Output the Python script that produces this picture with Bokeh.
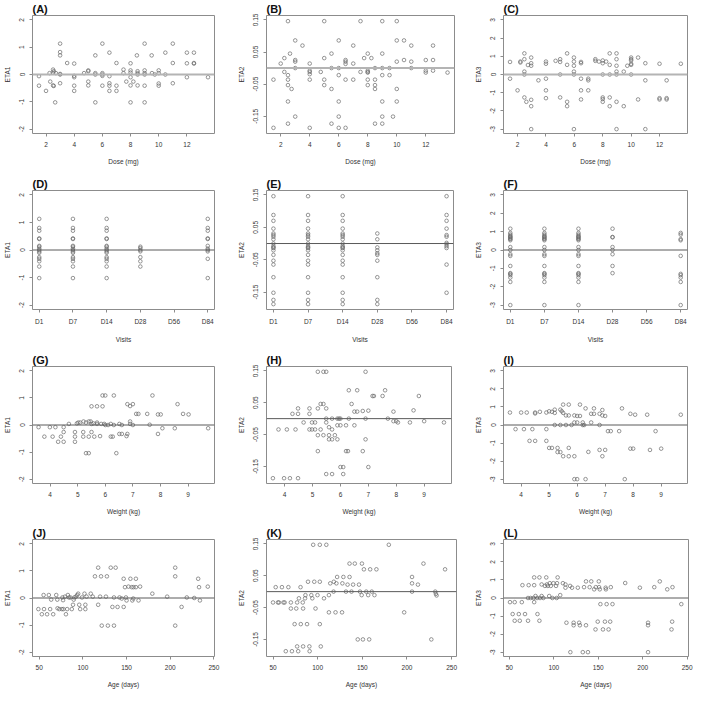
from bokeh.plotting import figure
from bokeh.layouts import column, row
from bokeh.models import FixedTicker, Span, Range1d
from bokeh.embed import file_html
from bokeh.resources import INLINE

# ---------------- data ----------------
dose_a = [1.5, 1.5, 2.0, 2.25, 2.3, 2.5, 2.5, 2.5, 2.55, 2.55, 2.65, 2.7, 3, 3, 3, 3, 3, 3, 3.5,
          4, 4, 4, 4, 4, 4.7, 5, 5, 5, 5, 5.5, 5.5, 5.5, 5.5, 6, 6, 6, 6, 6, 6.5, 6.5, 6.5, 6.5, 6.5,
          7, 7, 7, 7.5, 7.5, 7.7, 8, 8, 8, 8, 8, 8, 8.2, 8.45, 8.5, 8.5, 8.5, 8.5, 9, 9, 9, 9, 9, 9,
          9.5, 9.52, 9.72, 10, 10, 10, 10, 10.47, 10.47, 11, 11, 11, 12, 12, 12, 12.5, 12.5, 12.5, 13.5]
eta1_a = [-0.06, -0.41, -0.6, 0.05, -0.26, 0.18, 0.06, -0.4, 0.12, -0.42, -1.02, 0.05, 1.13, 0.82, 0.7, 0.0, 0.02, -0.32, 0.42,
          0.4, -0.05, -0.1, -0.41, -0.6, 0.05, 0.15, 0.12, -0.26, -0.4, 0.7, 0.05, 0.0, -1.02, 1.13, 0.05, 0.0, -0.05, -0.41, 0.8, -0.06, -0.32, -0.41, -0.6,
          0.42, -0.41, -0.6, 0.18, 0.05, -0.26, 0.41, 0.15, 0.07, -0.1, -0.4, -1.02, -0.26, 0.7, 0.12, 0.05, 0.0, -0.4, 1.13, 0.15, 0.05, 0.0, -0.41, -1.02,
          0.7, 0.05, 0.0, 0.15, 0.05, -0.33, -0.41, 0.8, 0.0, 1.13, 0.42, -0.32, 0.8, 0.41, -0.1, 0.8, 0.42, 0.4, -0.1]

dose_b = [1.5, 1.5, 2, 2.25, 2.25, 2.5, 2.5, 2.5, 2.5, 2.5, 2.5, 2.64, 2.75, 3, 3, 3, 3, 3, 3.5,
          4, 4, 4, 4, 4, 4, 4.76, 5, 5, 5, 5, 5.5, 5.5, 5.5, 5.5, 6, 6, 6, 6, 6, 6,
          6.47, 6.47, 6.47, 6.47, 6.47, 7, 7, 7, 7.5, 7.5, 7.75, 8, 8, 8, 8, 8, 8, 8.25,
          8.5, 8.5, 8.5, 8.5, 8.5, 9, 9, 9, 9, 9, 9, 9, 9.5, 9.5, 9.74,
          10, 10, 10, 10, 10, 10.5, 10.5, 11, 11, 11, 12, 12, 12, 12.5, 12.5, 12.5, 13.5]
eta2_b = [-0.036, -0.186, 0.014, 0.031, -0.012, 0.146, -0.022, -0.036, -0.053, -0.104, -0.173, 0.045, -0.065, 0.086, 0.025, 0.02, 0.0, -0.151, 0.07,
          0.014, -0.008, -0.012, -0.019, -0.036, -0.186, -0.012, 0.146, 0.031, -0.036, -0.053, 0.045, 0.0, -0.065, -0.173, 0.086, 0.0, -0.022, -0.104, -0.151, -0.186,
          0.025, 0.02, 0.013, -0.036, -0.186, 0.07, 0.014, -0.036, 0.146, -0.012, 0.031, 0.045, -0.008, -0.012, -0.014, -0.036, -0.053, 0.031,
          0.0, -0.036, -0.053, -0.065, -0.173, 0.146, 0.045, 0.0, -0.022, -0.104, -0.151, -0.173, 0.0, -0.022, -0.151,
          0.146, 0.086, 0.02, -0.065, -0.104, 0.086, 0.025, 0.07, 0.02, 0.0, 0.025, -0.008, -0.014, 0.07, 0.025, -0.008, -0.014]

dose_c = [1.47, 1.47, 2, 2.2, 2.2, 2.48, 2.48, 2.48, 2.48, 2.48, 2.62, 2.73, 2.96, 2.96, 2.96, 2.96, 2.96, 2.96, 3.47,
          4, 4, 4, 4, 4, 4.68, 5, 5, 5, 5, 5.49, 5.49, 5.49, 5.49, 5.97, 5.97, 5.97, 5.97, 5.97, 5.97,
          6.47, 6.47, 6.47, 6.47, 6.47, 6.98, 6.98, 6.98, 7.48, 7.48, 7.73, 8, 8, 8, 8, 8, 8, 8.24,
          8.49, 8.49, 8.49, 8.49, 8.49, 8.97, 8.97, 8.97, 8.97, 8.97, 8.97, 8.97, 9.48, 9.48, 9.73,
          10, 10, 10, 10, 10, 10, 10.49, 10.49, 11, 11, 11, 12, 12, 12, 12.5, 12.5, 12.5, 13.5]
eta3_c = [0.69, -0.23, -0.87, 0.71, 0.66, 1.16, 0.84, 0.16, 0.0, -1.26, -1.5, 0.52, 0.93, 0.62, 0.48, -1.39, -1.74, -3.0, -0.32,
          0.71, 0.59, -0.23, -0.87, -1.3, 0.75, 0.84, 0.69, 0.0, -1.26, 1.16, 0.53, -1.5, -1.74, 0.93, 0.71, 0.48, 0.16, 0.0, -3.0,
          0.69, 0.62, -0.23, -0.87, -1.37, -0.23, -0.32, -0.87, 0.84, 0.75, 0.71, 0.77, 0.62, 0.0, -1.26, -1.35, -1.5, 0.71,
          1.16, 0.53, 0.0, -1.26, -1.74, 1.16, 0.84, 0.48, 0.16, 0.0, -1.5, -3.0, 0.16, -1.74, 0.48,
          0.93, 0.84, 0.77, 0.59, 0.53, 0.0, 0.93, -1.37, 0.62, -0.32, -3.0, 0.59, -1.3, -1.37, -0.32, -1.3, -1.37, 0.59]

visits = ["D1", "D7", "D14", "D28", "D56", "D84"]
eta1_full = [1.13, 0.8, 0.7, 0.42, 0.4, 0.15, 0.12, 0.05, 0.0, -0.05, -0.1, -0.26, -0.32, -0.41, -0.6, -1.02]
eta1_by_visit = {"D1": eta1_full, "D7": eta1_full, "D14": eta1_full,
                 "D28": [0.12, 0.07, 0.0, -0.05, -0.26, -0.41, -0.6], "D56": [],
                 "D84": [1.13, 0.8, 0.7, 0.42, 0.4, 0.15, 0.05, 0.0, -0.05, -0.32, -1.02]}
eta2_full = [0.146, 0.088, 0.07, 0.046, 0.031, 0.026, 0.021, 0.013, 0.0, -0.008, -0.012, -0.014, -0.021,
             -0.035, -0.053, -0.065, -0.104, -0.152, -0.174, -0.187]
eta2_by_visit = {"D1": eta2_full, "D7": eta2_full, "D14": eta2_full,
                 "D28": [0.031, 0.013, -0.012, -0.021, -0.03, -0.035, -0.053, -0.104, -0.174, -0.187], "D56": [],
                 "D84": [0.146, 0.088, 0.07, 0.046, 0.026, 0.021, 0.002, -0.002, -0.008, -0.014, -0.065, -0.152]}
eta3_full = [1.16, 0.93, 0.84, 0.77, 0.71, 0.69, 0.62, 0.59, 0.53, 0.16, 0.0, -0.23, -0.32, -0.87, -1.26, -1.3,
             -1.37, -1.5, -1.74, -3.0]
eta3_by_visit = {"D1": eta3_full, "D7": eta3_full, "D14": eta3_full,
                 "D28": [1.16, 0.71, 0.69, 0.16, 0.0, -0.23, -0.87, -1.26], "D56": [],
                 "D84": [0.93, 0.84, 0.59, 0.53, -0.32, -1.3, -1.37, -1.5, -1.74, -3.0]}

wt_g = [3.58, 3.79, 3.99, 4.09, 4.19, 4.29, 4.39, 4.49, 4.49, 4.49, 4.68, 4.9, 4.9, 4.9, 4.97, 5.02, 5.09, 5.2, 5.2, 5.21,
        5.3, 5.3, 5.4, 5.4, 5.4, 5.47, 5.5, 5.5, 5.5, 5.57, 5.6, 5.7, 5.7, 5.7, 5.81, 5.85, 5.9, 5.9, 5.96, 6.0,
        6.0, 6.1, 6.2, 6.2, 6.27, 6.31, 6.31, 6.4, 6.51, 6.51, 6.6, 6.6, 6.77, 6.8, 6.8, 6.9, 6.9, 6.9, 7.0, 7.0,
        7.12, 7.2, 7.52, 7.61, 7.71, 7.91, 7.91, 8.01, 8.07, 8.52, 8.62, 8.82, 9.02, 9.73]
eta1_g = [-0.08, -0.43, -0.08, -0.43, -0.08, -0.62, -0.43, -0.08, -0.26, -0.62, 0.04, -0.26, -0.43, -0.62, 0.06, 0.09, 0.09, -0.43, -0.26, 0.13,
          0.09, -1.04, 0.13, -1.04, -0.43, 0.13, 0.69, 0.04, -0.26, 0.06, -0.43, 0.69, 0.09, 0.04, -0.41, 0.04, 1.09, 0.69, 0.04, 1.09,
          0.0, 0.0, 0.04, -0.43, -0.43, 1.09, 0.0, -1.04, 0.04, -0.33, -0.33, 0.0, -0.41, -0.33, 0.77, 0.7, 0.13, 0.04, 0.77, 0.0,
          0.41, 0.41, 0.41, 0.01, 1.09, -0.33, 0.39, 0.39, -0.12, -0.12, 0.77, 0.41, 0.39, -0.12]

wt_h = [3.58, 3.78, 3.98, 4.08, 4.19, 4.28, 4.39, 4.48, 4.48, 4.48, 4.68, 4.89, 4.89, 4.89, 4.98, 4.98, 5.09, 5.09,
        5.19, 5.19, 5.19, 5.19, 5.29, 5.29, 5.39, 5.39, 5.39, 5.49, 5.49, 5.49, 5.49, 5.49, 5.59, 5.59, 5.59,
        5.7, 5.7, 5.7, 5.7, 5.8, 5.89, 5.89, 5.89, 5.95, 6.0, 6.0, 6.0, 6.1, 6.1, 6.2, 6.2, 6.27, 6.3, 6.3, 6.4,
        6.5, 6.5, 6.6, 6.6, 6.8, 6.8, 6.9, 6.9, 6.9, 7.0, 7.0, 7.15, 7.2, 7.51, 7.6, 7.7, 7.9, 7.9, 8.0, 8.06,
        8.49, 8.62, 8.81, 9.0, 9.71]
eta2_h = [-0.187, -0.034, -0.187, -0.034, -0.187, 0.015, -0.034, 0.032, 0.015, -0.187, -0.012, 0.032, 0.015, -0.034, -0.012, -0.034, -0.012, -0.034,
          0.147, 0.032, -0.052, -0.102, 0.046, -0.034, 0.147, 0.046, -0.052, 0.147, 0.032, 0.0, -0.012, -0.174, -0.027, -0.052, -0.065,
          0.0, -0.034, -0.065, -0.174, -0.052, 0.0, -0.021, -0.065, 0.0, -0.021, -0.152, 0.0, -0.152, -0.174, -0.021, -0.102, -0.102, 0.089, 0.0, 0.046,
          0.022, -0.021, 0.089, 0.022, 0.024, -0.102, 0.147, 0.0, -0.065, 0.025, -0.152, 0.071, 0.071, 0.071, 0.089, 0.0, 0.022, -0.008, -0.008, -0.012,
          -0.012, 0.026, 0.071, -0.008, -0.012]

wt_i = [3.6, 3.8, 4.0, 4.1, 4.2, 4.3, 4.4, 4.5, 4.5, 4.5, 4.67, 4.9, 4.9, 4.9, 5.0, 5.0, 5.1, 5.1, 5.2, 5.2, 5.2,
        5.3, 5.3, 5.4, 5.4, 5.4, 5.45, 5.5, 5.5, 5.5, 5.6, 5.6, 5.7, 5.7, 5.7, 5.7, 5.8, 5.9, 5.9, 5.9, 5.9,
        6.0, 6.0, 6.0, 6.1, 6.1, 6.2, 6.2, 6.25, 6.3, 6.3, 6.4, 6.5, 6.5, 6.6, 6.6, 6.8, 6.8, 6.8, 6.9, 6.9, 6.9,
        7.0, 7.0, 7.1, 7.2, 7.5, 7.6, 7.7, 7.9, 7.9, 8.0, 8.07, 8.5, 8.6, 8.8, 9.0, 9.7]
eta3_i = [0.69, -0.23, 0.69, -0.23, 0.69, -0.88, -0.23, 0.69, 0.64, -0.88, 0.73, 0.69, -0.23, -0.88, 0.76, -1.27, 0.73, -1.27, 0.85, 0.67, 0.0,
          -1.27, -1.5, 0.85, 0.0, -1.5, 0.76, 1.13, 0.67, -1.73, 0.53, 0.0, 1.13, 0.53, -1.27, -1.73, 0.0, 0.53, 0.14, -1.73, -3.0,
          0.5, 0.14, -3.0, 1.13, 0.5, 0.14, 0.0, 0.0, 0.92, -3.0, -1.49, 0.14, 0.62, 0.62, 0.92, 0.62, 0.0, -1.38, 0.83, 0.53, -1.73,
          0.5, -1.38, -0.34, -0.34, -0.34, 0.92, -3.0, 0.62, -1.31, -1.31, 0.57, 0.57, -1.38, -0.34, -1.31, 0.57]

age_j = [49, 53, 55, 55.5, 59, 61, 62.5, 63.7, 66, 69.5, 70.7, 71, 73, 76, 76.6, 77.3, 77.7, 79.5, 80.6, 82, 82.8, 84, 85.8,
         87.3, 88.7, 89.5, 90.2, 92, 93.5, 94.6, 95.8, 96.9, 99, 101.8, 102.8, 102.8, 104.2, 109, 111.3, 113.8, 117.5, 117.5,
         119.7, 120.8, 121.6, 126.4, 127.5, 128.6, 131.9, 133.8, 135.6, 135.6, 137.5, 139.7, 141.9, 144.5, 146.7, 146.7, 148.2,
         149.3, 150, 152.2, 154.4, 155.9, 156.6, 157.7, 158, 160.7, 160.7, 163.7, 165.5, 179.5, 196.5, 205.7, 205.7, 205.7,
         213, 219, 227.5, 232, 233, 234, 243]
eta1_j = [-0.41, -0.6, 0.11, -0.41, -0.6, 0.11, -0.41, -0.06, -0.6, 0.11, -0.06, -0.38, -0.41, -0.41, 0.02, -0.08, -0.41, 0.05, -0.6, -0.41, 0.11, 0.02, 0.02,
          -0.41, -0.25, -0.06, 0.02, 0.05, 0.11, 0.16, -0.25, -0.41, 0.02, 0.16, -0.25, -0.41, 0.05, 0.16, 0.05, 0.8, 1.12, -0.25,
          0.05, 0.8, -1.02, 0.05, 0.8, -1.02, 1.12, -0.33, -1.02, 0.02, 1.12, -0.33, 0.02, -0.02, -0.33, 0.71, 0.4,
          0.02, -0.09, 0.42, 0.71, 0.4, -0.09, -0.02, 0.4, 0.71, 0.4, -0.09, 0.42, 0.16, 0.05, 1.12, 0.8, -1.02,
          -0.33, 0.02, 0.0, 0.71, 0.4, -0.09, 0.42]

age_k = [50, 53, 55.5, 56.6, 60, 61.7, 63, 64.3, 67.2, 70, 70, 71.2, 74.2, 76, 77, 77, 78.2, 79, 80.8, 81.1, 83.3, 83.7, 83.7,
         85.9, 86.3, 88.1, 89.2, 90.7, 91, 92.9, 94, 95, 96.2, 97.6, 99.8, 102.4, 102.4, 102.4, 103.5, 107.1, 109.7, 112.6,
         112.6, 114.1, 118.1, 117.8, 120, 121, 121.8, 127.3, 127.7, 128.8, 131.7, 133.5, 135.7, 135.7, 137.9, 139.7, 141.6,
         144.9, 146.3, 147.4, 149.3, 149.6, 150.7, 151.8, 154.4, 156.6, 157.7, 158.8, 160.6, 163.6, 165.8, 179.7, 196.9,
         205.7, 205.7, 205.7, 212.3, 218.5, 227.3, 231.7, 232.4, 233.2, 242.7]
eta2_k = [-0.034, 0.014, -0.034, -0.034, 0.014, -0.034, -0.034, -0.187, 0.014, -0.034, -0.053, -0.187, -0.102, -0.053, -0.034, -0.172, -0.187, -0.021, 0.014, -0.102, -0.034, -0.053, -0.172,
          -0.021, -0.011, -0.102, 0.031, -0.172, -0.187, -0.011, -0.021, 0.147, 0.031, -0.053, -0.011, 0.147, 0.031, -0.102, -0.172, -0.021, 0.147, -0.011,
          -0.065, 0.026, 0.031, 0.0, -0.065, 0.026, 0.046, -0.065, 0.026, 0.046, 0.0, 0.022, 0.088, 0.046, 0.0, 0.022, 0.088,
          -0.15, 0.022, 0.0, -0.011, 0.088, -0.15, 0.07, 0.0, -0.011, -0.15, 0.07, 0.0, -0.011, 0.07, 0.147, -0.065,
          0.046, 0.026, 0.0, 0.022, 0.088, -0.15, 0.0, -0.007, -0.012, 0.07]

age_l = [50.7, 53.7, 56, 56, 60.6, 61.7, 64, 64.7, 67.6, 71, 71, 71.7, 73.9, 77.2, 77.9, 77.9, 77.9, 79.4, 81.2, 81.6, 83.8,
         83.8, 84.5, 86.3, 86.3, 88.2, 90, 91.5, 92.2, 93.3, 94.8, 95.5, 96.6, 98.4, 99.5, 102.5, 103.2, 103.6, 104.3, 107.2,
         110.2, 113.1, 113.1, 114.2, 118.3, 118.6, 120.5, 122.3, 122.3, 127, 128.5, 129.3, 132.6, 134, 136.2, 136.2, 138.4,
         140.3, 142.1, 145.4, 146.9, 147.2, 149.4, 150.6, 150.9, 151.7, 152.4, 155.3, 157.5, 158.3, 158.6, 159.4, 161.6,
         163.4, 164.1, 166, 180.3, 196.8, 206, 206, 206, 213, 219.2, 227.6, 233.5, 232.4, 233.1, 243.4]
eta3_l = [-0.23, -0.89, -0.23, -1.26, -0.89, -1.26, -0.23, 0.71, -0.89, 0.0, -1.26, 0.71, 0.0, 0.0, 1.14, 0.71, -0.23, 0.11, 0.0, -0.89, 1.14,
          -1.26, 0.0, 0.75, 0.11, 0.0, 0.67, 1.14, 0.75, 0.67, 0.11, 0.82, 0.67, 0.0, 0.82, 0.67, 0.0, 0.82, 1.14, 0.16,
          0.82, 0.75, 0.57, -1.37, 0.67, -3.0, 0.57, -1.37, -1.51, 0.57, -1.37, -1.51, -3.0, 0.6, 0.92, -1.51, -3.0,
          0.6, 0.92, 0.48, -1.74, 0.6, -1.31, 0.92, 0.6, 0.48, -0.34, -1.74, -1.31, 0.57, 0.48, -0.34, -1.74,
          -1.31, 0.6, -0.34, 0.83, 0.57, -1.37, -1.51, -3.0, 0.6, 0.92, 0.48, 0.6, -1.74, -1.31, -0.34]

dose_ticks = [2, 4, 6, 8, 10, 12]
weight_ticks = [4, 5, 6, 7, 8, 9]
age_ticks = [50, 100, 150, 200, 250]
eta1_ticks = [-2, -1, 0, 1, 2]
eta2_ticks = [-0.15, -0.05, 0.05, 0.15]
eta3_ticks = [-3, -2, -1, 0, 1, 2, 3]

# ---------------- styling ----------------
FONT = "Liberation Sans"
BOX = "#8c8c8c"
PT = "#686868"
TXT = "#333333"
ROWH = [172, 173, 172, 173]
TOPS = [14, 18, 21, 22]
FHS = [119, 119, 118, 119]
LEFTS = [30, 35, 41]
COLW = 231


def fmt(t):
    if float(t).is_integer():
        return str(int(t))
    return ("%.2f" % t)


def panel(letter, xs, ys, xr, yr, xticks, yticks, xlabel, ylabel, r, c, fw,
          xlabels=None):
    top = TOPS[r]
    fh = FHS[r]
    bottom = ROWH[r] - top - fh
    left = LEFTS[c]
    right = COLW - left - fw
    p = figure(width=COLW, height=ROWH[r],
               min_border_left=left, min_border_right=right,
               min_border_top=top, min_border_bottom=bottom,
               x_range=Range1d(*xr), y_range=Range1d(*yr),
               output_backend="svg", toolbar_location=None, tools="",
               title="(%s)" % letter)
    p.title.text_font = FONT
    p.title.text_font_style = "bold"
    p.title.text_font_size = "11px"
    p.title.text_color = "#111111"
    p.title.align = "left"
    p.title.offset = 0
    p.title.standoff = 1
    p.xgrid.visible = False
    p.ygrid.visible = False
    p.background_fill_color = "white"
    p.border_fill_color = "white"
    p.outline_line_color = BOX
    p.outline_line_width = 1
    p.outline_line_alpha = 1.0

    p.xaxis.ticker = FixedTicker(ticks=xticks)
    p.yaxis.ticker = FixedTicker(ticks=yticks)
    if xlabels is None:
        p.xaxis.major_label_overrides = {t: fmt(t) for t in xticks}
    else:
        p.xaxis.major_label_overrides = {t: l for t, l in zip(xticks, xlabels)}
    p.yaxis.major_label_overrides = {t: fmt(t) for t in yticks}
    for ax in (p.xaxis[0], p.yaxis[0]):
        ax.axis_line_color = None
        ax.major_tick_out = 3
        ax.major_tick_in = 0
        ax.minor_tick_out = 0
        ax.minor_tick_in = 0
        ax.major_tick_line_color = BOX
        ax.major_tick_line_width = 1
        ax.major_label_text_font = FONT
        ax.major_label_text_font_size = "6.5px"
        ax.major_label_text_color = TXT
        ax.axis_label_text_font = FONT
        ax.axis_label_text_font_size = "6.5px"
        ax.axis_label_text_font_style = "normal"
        ax.axis_label_text_color = TXT
    p.xaxis.major_label_standoff = 5
    p.xaxis.axis_label_standoff = 8
    p.yaxis.major_label_standoff = 5
    p.yaxis.axis_label_standoff = 6
    p.xaxis.axis_label = xlabel
    p.yaxis.axis_label = ylabel
    p.yaxis.major_label_orientation = "vertical"

    if r == 0:
        p.add_layout(Span(location=0, dimension="width", line_color="#b4b4b4", line_width=2))
    else:
        p.add_layout(Span(location=0, dimension="width", line_color="#5a5a5a", line_width=1))

    p.scatter(xs, ys, marker="circle", size=3.6, fill_color=None,
              line_color=PT, line_width=0.7)
    return p


def by_visit(d):
    xs, ys = [], []
    for i, v in enumerate(visits):
        for y in d[v]:
            xs.append(i + 1)
            ys.append(y)
    return xs, ys


vis_ticks = [1, 2, 3, 4, 5, 6]
Y1 = (-2.16, 2.16)
Y2 = (-0.2036, 0.1636)
Y3 = (-3.24, 3.24)

pa = panel("A", dose_a, eta1_a, (1.04, 13.96), Y1, dose_ticks, eta1_ticks, "Dose (mg)", "ETA1", 0, 0, 184)
pb = panel("B", dose_b, eta2_b, (1.02, 13.98), Y2, dose_ticks, eta2_ticks, "Dose (mg)", "ETA2", 0, 1, 188)
pc = panel("C", dose_c, eta3_c, (1.01, 13.97), Y3, dose_ticks, eta3_ticks, "Dose (mg)", "ETA3", 0, 2, 184)

xd, yd = by_visit(eta1_by_visit)
xe, ye = by_visit(eta2_by_visit)
xf, yf = by_visit(eta3_by_visit)
pd_ = panel("D", xd, yd, (0.8, 6.2), Y1, vis_ticks, eta1_ticks, "Visits", "ETA1", 1, 0, 184, visits)
pe = panel("E", xe, ye, (0.8, 6.2), Y2, vis_ticks, eta2_ticks, "Visits", "ETA2", 1, 1, 187, visits)
pf = panel("F", xf, yf, (0.8, 6.2), Y3, vis_ticks, eta3_ticks, "Visits", "ETA3", 1, 2, 184, visits)

pg = panel("G", wt_g, eta1_g, (3.36, 9.96), Y1, weight_ticks, eta1_ticks, "Weight (kg)", "ETA1", 2, 0, 184)
ph = panel("H", wt_h, eta2_h, (3.35, 9.98), Y2, weight_ticks, eta2_ticks, "Weight (kg)", "ETA2", 2, 1, 185)
pi = panel("I", wt_i, eta3_i, (3.37, 9.94), Y3, weight_ticks, eta3_ticks, "Weight (kg)", "ETA3", 2, 2, 184)

pj = panel("J", age_j, eta1_j, (42.3, 250.7), Y1, age_ticks, eta1_ticks, "Age (days)", "ETA1", 3, 0, 184)
pk = panel("K", age_k, eta2_k, (42.7, 255.5), Y2, age_ticks, eta2_ticks, "Age (days)", "ETA2", 3, 1, 190)
pl = panel("L", age_l, eta3_l, (43.4, 251.5), Y3, age_ticks, eta3_ticks, "Age (days)", "ETA3", 3, 2, 185)

layout = column(row(pa, pb, pc), row(pd_, pe, pf), row(pg, ph, pi), row(pj, pk, pl))

open("out.html", "w").write(file_html(layout, INLINE))
